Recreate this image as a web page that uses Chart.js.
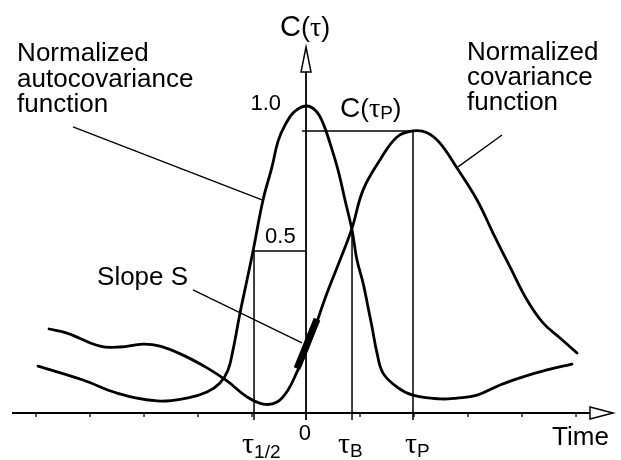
<!DOCTYPE html>
<html><head><meta charset="utf-8">
<script src="https://cdn.jsdelivr.net/npm/chart.js@4.4.0/dist/chart.umd.min.js"></script>
<style>html,body{margin:0;padding:0;background:#fff;}#wrap{width:621px;height:460px;}</style>
</head><body><div id="wrap"><canvas id="c" width="621" height="460"></canvas></div>
<script>
// ---- data (time in arbitrary units, 0 = zero lag; C = normalized covariance) ----
const timeTicks = [-5, -4, -3, -2, -1, 1, 2, 3, 4, 5];

const autoTime  = [-4.963,-4.130,-3.500,-2.759,-2.204,-1.833,-1.593,-1.444,-1.352,-1.222,-1.093,-0.981,-0.796,-0.630,-0.519,-0.389,-0.222,0,0.185,0.315,0.444,0.593,0.722,0.852,0.944,1.056,1.148,1.222,1.315,1.426,1.685,1.981,2.481,2.796,3.167,3.593,4.019,4.463,4.926];
const autoValue = [0.103,0.055,0.010,-0.017,-0.007,0.014,0.045,0.090,0.159,0.286,0.400,0.500,0.676,0.790,0.878,0.934,0.979,1.000,0.983,0.941,0.872,0.779,0.676,0.572,0.469,0.390,0.307,0.238,0.148,0.079,0.031,0.003,-0.010,-0.007,0.003,0.038,0.066,0.090,0.110];

const covTime  = [-4.759,-4.426,-3.815,-3.444,-3.019,-2.704,-2.278,-1.833,-1.463,-1.093,-0.796,-0.537,-0.333,-0.167,0,0.130,0.389,0.630,0.852,1.056,1.370,1.685,1.981,2.241,2.481,2.796,3.167,3.463,3.778,4.093,4.389,4.704,5.019];
const covValue = [0.231,0.217,0.172,0.169,0.179,0.172,0.141,0.097,0.052,-0.003,-0.028,-0.021,0.021,0.083,0.152,0.217,0.355,0.469,0.579,0.710,0.814,0.893,0.914,0.908,0.872,0.786,0.676,0.562,0.445,0.331,0.252,0.200,0.148];

const slopeTime  = [-0.167, 0.204];
const slopeValue = [0.095, 0.265];

const tauHalf = -0.963, tauB = 0.852, tauP = 1.981;
const halfLevel = 0.5, peakLevel = 1.0, cTauP = 0.914;
const axisLevel = -0.0586, lineBottom = -0.083;
const xAxisStart = -5.444, xArrowBase = 5.259, xArrowTip = 5.685;
const yArrowBase = 1.117, yArrowTip = 1.203;

// ---- helpers ----
const zip = (xs, ys) => xs.map((v, i) => ({x: v, y: ys[i]}));
const seg = (x1, y1, x2, y2, w) => ({
  data: [{x: x1, y: y1}, {x: x2, y: y2}], borderColor: '#000', borderWidth: w || 1.5,
  pointRadius: 0, showLine: true, tension: 0, borderCapStyle: 'butt'
});
const curve = (xs, ys) => ({
  data: zip(xs, ys), borderColor: '#000', borderWidth: 2.8, pointRadius: 0,
  showLine: true, tension: 0.4, borderJoinStyle: 'round', borderCapStyle: 'round'
});

const datasets = [
  curve(autoTime, autoValue),
  curve(covTime, covValue),
  seg(slopeTime[0], slopeValue[0], slopeTime[1], slopeValue[1], 7),
  // reference lines
  seg(tauHalf, halfLevel, 0, halfLevel),
  seg(-0.074, cTauP, tauP, cTauP),
  seg(tauHalf, halfLevel, tauHalf, lineBottom),
  seg(tauB, 0.579, tauB, lineBottom),
  seg(tauP, cTauP, tauP, lineBottom),
  // label pointers
  seg(-4.315, 0.928, -0.815, 0.676, 1.3),
  seg(2.815, 0.790, 3.630, 0.900, 1.3),
  seg(-2.093, 0.366, -0.074, 0.183, 1.3),
  // axes
  seg(xAxisStart, axisLevel, xArrowBase, axisLevel, 2),
  seg(0, lineBottom, 0, yArrowBase, 1.8)
];

const SANS = '"Liberation Sans", Arial, Helvetica, sans-serif';
const SERIF = '"Liberation Serif", "Times New Roman", serif';

function rich(ctx, parts, x, y) {
  let cx = x;
  for (const p of parts) {
    ctx.font = p.font;
    ctx.fillText(p.text, cx, y + (p.dy || 0));
    cx += ctx.measureText(p.text).width + (p.gap || 0);
  }
}

const decor = {
  id: 'decor',
  afterDatasetsDraw(chart) {
    const {ctx, scales: {x, y}} = chart;
    const px = v => x.getPixelForValue(v), py = v => y.getPixelForValue(v);
    ctx.save();
    ctx.strokeStyle = '#000'; ctx.fillStyle = '#000';
    // ticks
    ctx.lineWidth = 1.3;
    for (const t of timeTicks) {
      ctx.beginPath(); ctx.moveTo(px(t), py(axisLevel)); ctx.lineTo(px(t), py(axisLevel) + 4); ctx.stroke();
    }
    // x arrow
    ctx.lineWidth = 1.5;
    ctx.beginPath();
    ctx.moveTo(px(xArrowBase), py(axisLevel) - 6);
    ctx.lineTo(px(xArrowTip), py(axisLevel));
    ctx.lineTo(px(xArrowBase), py(axisLevel) + 6);
    ctx.closePath(); ctx.fillStyle = '#fff'; ctx.fill(); ctx.stroke();
    // y arrow
    ctx.beginPath();
    ctx.moveTo(px(0) - 5, py(yArrowBase));
    ctx.lineTo(px(0), py(yArrowTip));
    ctx.lineTo(px(0) + 5, py(yArrowBase));
    ctx.closePath(); ctx.fill(); ctx.stroke();
    // texts
    ctx.fillStyle = '#000';
    ctx.textBaseline = 'alphabetic'; ctx.textAlign = 'left';
    const body = '26px ' + SANS;
    ctx.font = body;
    ctx.fillText('Normalized', px(-5.35), py(1.155));
    ctx.fillText('autocovariance', px(-5.35), py(1.066));
    ctx.fillText('function', px(-5.35), py(0.979));
    ctx.fillText('Normalized', px(2.981), py(1.159));
    ctx.fillText('covariance', px(2.981), py(1.072));
    ctx.fillText('function', px(2.981), py(0.986));
    ctx.fillText('Slope S', px(-3.87), py(0.383));
    ctx.fillText('Time', px(4.556), py(-0.169));
    ctx.font = '22px ' + SANS;
    ctx.textAlign = 'right';
    ctx.fillText('1.0', px(-0.463), py(0.986));
    ctx.textAlign = 'left';
    ctx.fillText('0.5', px(-0.759), py(0.528));
    ctx.textAlign = 'center';
    ctx.fillText('0', px(-0.019), py(-0.152));
    ctx.textAlign = 'left';
    rich(ctx, [
      {text: 'C', font: '29px ' + SANS},
      {text: '(', font: '27px ' + SANS},
      {text: 'τ', font: '28px ' + SERIF},
      {text: ')', font: '27px ' + SANS}
    ], px(-0.481), py(1.241));
    rich(ctx, [
      {text: 'C', font: '28px ' + SANS},
      {text: '(', font: '26px ' + SANS},
      {text: 'τ', font: '28px ' + SERIF},
      {text: 'P', font: '19px ' + SANS, dy: 2},
      {text: ')', font: '26px ' + SANS}
    ], px(0.630), py(0.962));
    const bl = py(-0.197);
    rich(ctx, [{text: 'τ', font: '30px ' + SERIF}, {text: '1/2', font: '19px ' + SANS, dy: 5}], px(-1.185), bl);
    rich(ctx, [{text: 'τ', font: '30px ' + SERIF}, {text: 'B', font: '19px ' + SANS, dy: 4}], px(0.593), bl);
    rich(ctx, [{text: 'τ', font: '30px ' + SERIF}, {text: 'P', font: '19px ' + SANS, dy: 4}], px(1.833), bl);
    ctx.restore();
  }
};

new Chart(document.getElementById('c'), {
  type: 'scatter',
  data: {datasets},
  options: {
    responsive: false, animation: false, devicePixelRatio: 1,
    layout: {padding: 0},
    plugins: {legend: {display: false}, tooltip: {enabled: false}},
    scales: {
      x: {type: 'linear', display: false, min: -5.667, max: 5.833},
      y: {type: 'linear', display: false, min: -0.2207, max: 1.3655}
    }
  },
  plugins: [decor]
});
</script></body></html>
